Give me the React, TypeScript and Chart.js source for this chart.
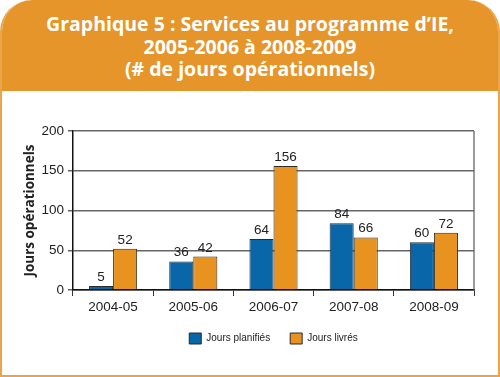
import React, { useEffect, useRef } from "react";
import { Chart, registerables } from "chart.js";

Chart.register(...registerables);

const titleLines = [
  "Graphique 5 : Services au programme d’IE,",
  "2005-2006 à 2008-2009",
  "(# de jours opérationnels)",
];
const categories = ["2004-05", "2005-06", "2006-07", "2007-08", "2008-09"];
const joursPlanifies = [5, 36, 64, 84, 60];
const joursLivres = [52, 42, 156, 66, 72];
const seriesLabels = ["Jours planifiés", "Jours livrés"];
const yTicks = [0, 50, 100, 150, 200];
const yAxisTitle = "Jours opérationnels";

const NARROW = "'Liberation Sans', Arial, sans-serif";
const HUMAN = "'Open Sans', 'Liberation Sans', sans-serif";
const BLUE = "#0866A9";
const ORANGE = "#E8921F";
const HEADER = "#E5952A";

const valueLabels = {
  id: "valueLabels",
  afterDatasetsDraw(chart: any) {
    const ctx = chart.ctx;
    ctx.save();
    ctx.font = `13.5px ${NARROW}`;
    ctx.fillStyle = "#222";
    ctx.textAlign = "center";
    ctx.textBaseline = "bottom";
    chart.data.datasets.forEach((ds: any, i: number) => {
      const meta = chart.getDatasetMeta(i);
      meta.data.forEach((el: any, j: number) => {
        ctx.fillText(String(ds.data[j]), el.x, el.y - 2);
      });
    });
    ctx.restore();
  },
};

const rightBorder = {
  id: "rightBorder",
  beforeDatasetsDraw(chart: any) {
    const { ctx, chartArea } = chart;
    ctx.save();
    ctx.strokeStyle = "#666";
    ctx.lineWidth = 1.3;
    ctx.beginPath();
    ctx.moveTo(chartArea.right, chartArea.top);
    ctx.lineTo(chartArea.right, chartArea.bottom);
    ctx.stroke();
    ctx.restore();
  },
};

export default function App() {
  const canvasRef = useRef<HTMLCanvasElement | null>(null);

  useEffect(() => {
    if (!canvasRef.current) return;
    const chart = new Chart(canvasRef.current, {
      type: "bar",
      data: {
        labels: categories,
        datasets: [
          {
            label: seriesLabels[0],
            data: joursPlanifies,
            backgroundColor: BLUE,
            borderColor: "#2a2a2a",
            borderWidth: 1,
            barPercentage: 1,
            categoryPercentage: 0.6,
          },
          {
            label: seriesLabels[1],
            data: joursLivres,
            backgroundColor: ORANGE,
            borderColor: "#2a2a2a",
            borderWidth: 1,
            barPercentage: 1,
            categoryPercentage: 0.6,
          },
        ],
      },
      options: {
        responsive: false,
        animation: false,
        layout: { padding: { left: 16, right: 24, top: 40, bottom: 21 } },
        plugins: {
          title: { display: false },
          tooltip: { enabled: false },
          legend: {
            position: "bottom",
            fullSize: false,
            labels: {
              boxWidth: 12,
              boxHeight: 11,
              padding: 20,
              color: "#222",
              font: { family: NARROW, size: 10 },
            },
          },
        },
        scales: {
          x: {
            afterFit(scale: any) {
              scale.height = 23;
            },
            grid: {
              offset: true,
              drawOnChartArea: false,
              drawTicks: true,
              tickLength: 6,
              color: "#333",
            },
            border: { color: "#111", width: 1.5 },
            ticks: {
              color: "#222",
              padding: 3,
              font: { family: NARROW, size: 13.5 },
            },
          },
          y: {
            min: yTicks[0],
            max: yTicks[yTicks.length - 1],
            afterFit(scale: any) {
              scale.width = 55;
            },
            ticks: {
              stepSize: yTicks[1] - yTicks[0],
              color: "#222",
              padding: 4,
              font: { family: NARROW, size: 13.5 },
            },
            grid: {
              color: "#666",
              lineWidth: 1.5,
              tickLength: 5,
            },
            border: { color: "#111", width: 1.5 },
            title: {
              display: true,
              text: yAxisTitle,
              color: "#222",
              font: { family: HUMAN, size: 13.5, weight: "bold" },
              padding: { top: 4, bottom: 4 },
            },
          },
        },
      },
      plugins: [valueLabels, rightBorder],
    } as any);
    return () => chart.destroy();
  }, []);

  return (
    <div
      style={{
        position: "absolute",
        left: 0,
        top: 0,
        width: 500,
        height: 377,
        boxSizing: "border-box",
        background: "#fff",
        border: "2px solid #EBA449",
        borderTop: "none",
        borderRadius: "32px 32px 0 0",
        overflow: "hidden",
      }}
    >
      <div
        style={{
          position: "absolute",
          left: -2,
          top: 0,
          width: 500,
          height: 91,
          background: HEADER,
          borderRadius: "32px 32px 0 0",
          color: "#fff",
          fontFamily: HUMAN,
          fontWeight: "bold",
          fontSize: 19.5,
          lineHeight: "22.5px",
          textAlign: "center",
          paddingTop: 13,
          boxSizing: "border-box",
        }}
      >
        {titleLines.map((t, i) => (
          <div key={i}>{t}</div>
        ))}
      </div>
      <canvas
        ref={canvasRef}
        width={496}
        height={284}
        style={{ position: "absolute", left: 0, top: 91 }}
      />
    </div>
  );
}
